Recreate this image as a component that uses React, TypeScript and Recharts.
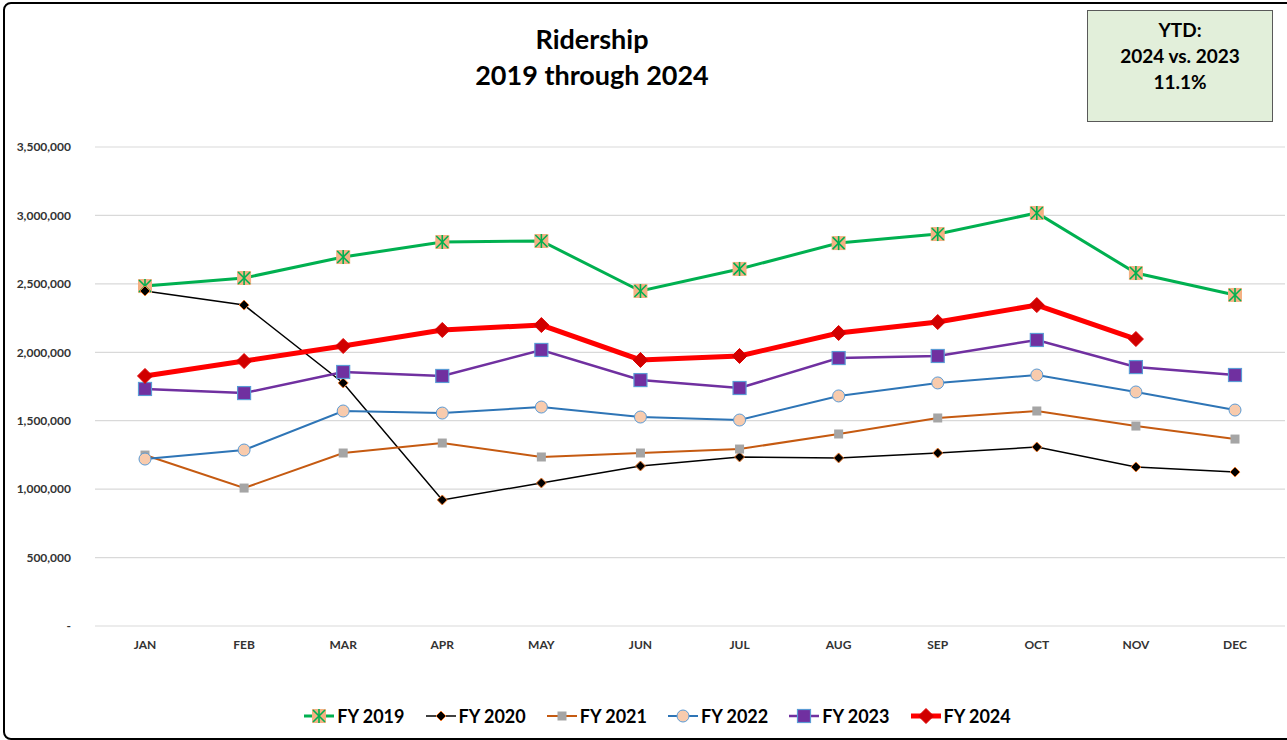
import React from "react";
import { LineChart, Line, XAxis, YAxis, CartesianGrid } from "recharts";

const months = ["JAN", "FEB", "MAR", "APR", "MAY", "JUN", "JUL", "AUG", "SEP", "OCT", "NOV", "DEC"];
const fy2019 = [2484000, 2543000, 2696000, 2806000, 2813000, 2448000, 2609000, 2798000, 2864000, 3018000, 2579000, 2419000];
const fy2020 = [2448000, 2345000, 1776000, 921000, 1045000, 1169000, 1235000, 1228000, 1264000, 1308000, 1162000, 1125000];
const fy2021 = [1249000, 1008000, 1264000, 1337000, 1235000, 1264000, 1293000, 1403000, 1520000, 1571000, 1461000, 1366000];
const fy2022 = [1220000, 1286000, 1571000, 1556000, 1600000, 1527000, 1505000, 1681000, 1776000, 1834000, 1710000, 1578000];
const fy2023 = [1732000, 1702000, 1856000, 1827000, 2017000, 1797000, 1739000, 1958000, 1973000, 2090000, 1892000, 1834000];
const fy2024 = [1827000, 1936000, 2046000, 2163000, 2199000, 1944000, 1973000, 2141000, 2221000, 2345000, 2097000, null];
const yTicks = [0, 500000, 1000000, 1500000, 2000000, 2500000, 3000000, 3500000];

const data = months.map((m, i) => ({
  m,
  y2019: fy2019[i],
  y2020: fy2020[i],
  y2021: fy2021[i],
  y2022: fy2022[i],
  y2023: fy2023[i],
  y2024: fy2024[i],
}));

const FONT = "Lato, 'Open Sans', sans-serif";

type Shape = (cx: number, cy: number) => React.ReactElement;

const m2019: Shape = (cx, cy) => (
  <g>
    <rect x={cx - 7} y={cy - 7} width={14} height={14} fill="#F4B183" />
    <line x1={cx} y1={cy - 7} x2={cx} y2={cy + 7} stroke="#00B050" strokeWidth={1.6} />
    <line x1={cx - 6} y1={cy - 6} x2={cx + 6} y2={cy + 6} stroke="#00B050" strokeWidth={1.6} />
    <line x1={cx + 6} y1={cy - 6} x2={cx - 6} y2={cy + 6} stroke="#00B050" strokeWidth={1.6} />
  </g>
);
const m2020: Shape = (cx, cy) => (
  <polygon points={`${cx},${cy - 5} ${cx + 5},${cy} ${cx},${cy + 5} ${cx - 5},${cy}`} fill="#000" stroke="#ED7D31" strokeWidth={1} />
);
const m2021: Shape = (cx, cy) => <rect x={cx - 4.5} y={cy - 4.5} width={9} height={9} fill="#A5A5A5" />;
const m2022: Shape = (cx, cy) => <circle cx={cx} cy={cy} r={6} fill="#F8CBAD" stroke="#5B9BD5" strokeWidth={1} />;
const m2023: Shape = (cx, cy) => (
  <rect x={cx - 6.5} y={cy - 6.5} width={13} height={13} fill="#7030A0" stroke="#5B9BD5" strokeWidth={1.2} />
);
const m2024: Shape = (cx, cy) => (
  <polygon points={`${cx},${cy - 7.5} ${cx + 7.5},${cy} ${cx},${cy + 7.5} ${cx - 7.5},${cy}`} fill="#D00000" stroke="#E00000" strokeWidth={1} />
);

const dotFn = (shape: Shape) => (props: any) => {
  const { cx, cy, index, value } = props;
  if (cy == null || cx == null || value == null || isNaN(cy)) return <g key={`e-${index}`} />;
  return <g key={`d-${index}`}>{shape(cx, cy)}</g>;
};

const series = [
  { key: "y2019", name: "FY 2019", color: "#00B050", width: 3, shape: m2019 },
  { key: "y2020", name: "FY 2020", color: "#000000", width: 1.5, shape: m2020 },
  { key: "y2021", name: "FY 2021", color: "#C55A11", width: 2, shape: m2021 },
  { key: "y2022", name: "FY 2022", color: "#2E75B6", width: 2, shape: m2022 },
  { key: "y2023", name: "FY 2023", color: "#7030A0", width: 2.5, shape: m2023 },
  { key: "y2024", name: "FY 2024", color: "#FF0000", width: 5, shape: m2024 },
];

const fmt = (v: number) => (v === 0 ? "-" : v.toLocaleString("en-US"));

export default function App() {
  return (
    <div style={{ position: "absolute", left: 0, top: 0, width: 1287, height: 740, overflow: "hidden", background: "#fff", fontFamily: FONT }}>
      <div style={{ position: "absolute", left: 3, top: 2, width: 1296, height: 734, border: "2px solid #000", borderRadius: 8 }} />
      <div style={{ position: "absolute", left: 392, top: 21, width: 400, textAlign: "center", fontWeight: 700, fontSize: 27, lineHeight: "36px", color: "#000" }}>
        <div>Ridership</div>
        <div>2019 through 2024</div>
      </div>
      <div style={{ position: "absolute", left: 1087, top: 10, width: 186, height: 112, background: "#E2EFDA", border: "1.5px solid #595959", textAlign: "center", fontWeight: 700, fontSize: 19, lineHeight: "26px", paddingTop: 6, boxSizing: "border-box", color: "#000" }}>
        <div>YTD:</div>
        <div>2024 vs. 2023</div>
        <div>11.1%</div>
      </div>
      <div style={{ position: "absolute", left: 0, top: 0 }}>
        <LineChart width={1287} height={740} data={data} margin={{ top: 147, right: 2, left: 0, bottom: 84 }}>
          <CartesianGrid vertical={false} stroke="#D9D9D9" strokeWidth={1.2} />
          <XAxis
            dataKey="m"
            axisLine={false}
            tickLine={false}
            tickSize={0}
            tickMargin={14}
            height={30}
            interval={0}
            padding={{ left: 50, right: 50 }}
            tick={{ fontSize: 12, fontWeight: 700, fill: "#333", fontFamily: FONT }}
          />
          <YAxis
            width={95}
            domain={[0, 3500000]}
            ticks={yTicks}
            axisLine={false}
            tickLine={false}
            tickSize={0}
            tickMargin={24}
            tickFormatter={fmt}
            tick={{ fontSize: 12, fontWeight: 700, fill: "#333", fontFamily: FONT }}
          />
          {series.map((s) => (
            <Line
              key={s.key}
              type="linear"
              dataKey={s.key}
              name={s.name}
              stroke={s.color}
              strokeWidth={s.width}
              dot={dotFn(s.shape)}
              activeDot={false}
              isAnimationActive={false}
              connectNulls={false}
            />
          ))}
        </LineChart>
      </div>
      <div style={{ position: "absolute", left: 0, top: 703, width: 1287, display: "flex", justifyContent: "center", gap: 13, paddingLeft: 32, boxSizing: "border-box" }}>
        {series.map((s) => (
          <div key={s.key} style={{ display: "flex", alignItems: "center" }}>
            <svg width={34} height={26}>
              <line x1={2} y1={13} x2={32} y2={13} stroke={s.color} strokeWidth={s.width} />
              {s.shape(17, 13)}
            </svg>
            <span style={{ fontSize: 18, fontWeight: 700, color: "#000", marginLeft: 1, marginRight: 6 }}>{s.name}</span>
          </div>
        ))}
      </div>
    </div>
  );
}
